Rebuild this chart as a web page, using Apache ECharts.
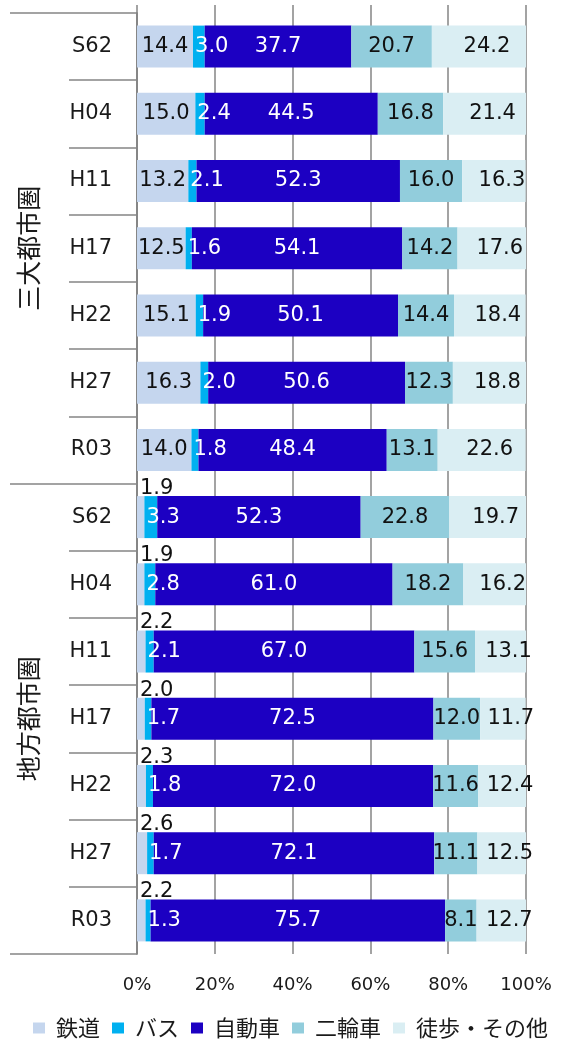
<!DOCTYPE html>
<html>
<head>
<meta charset="utf-8">
<script src="https://cdn.jsdelivr.net/npm/echarts@6/dist/echarts.min.js"></script>
<style>
html,body{margin:0;padding:0;background:#fff;}
#c{width:561px;height:1042px;}
</style>
</head>
<body>
<div id="c"></div>
<script>
const categories = ['S62','H04','H11','H17','H22','H27','R03','S62','H04','H11','H17','H22','H27','R03'];
const groups = ['三大都市圏','地方都市圏'];
const seriesNames = ['鉄道','バス','自動車','二輪車','徒歩・その他'];
const rail = [14.4,15.0,13.2,12.5,15.1,16.3,14.0,1.9,1.9,2.2,2.0,2.3,2.6,2.2];
const bus  = [3.0,2.4,2.1,1.6,1.9,2.0,1.8,3.3,2.8,2.1,1.7,1.8,1.7,1.3];
const car  = [37.7,44.5,52.3,54.1,50.1,50.6,48.4,52.3,61.0,67.0,72.5,72.0,72.1,75.7];
const bike = [20.7,16.8,16.0,14.2,14.4,12.3,13.1,22.8,18.2,15.6,12.0,11.6,11.1,8.1];
const walk = [24.2,21.4,16.3,17.6,18.4,18.8,22.6,19.7,16.2,13.1,11.7,12.4,12.5,12.7];
const xMin = 0, xMax = 100, xInterval = 20;

const colors = ['#c5d6ee','#00b0f0','#1c00c2','#92cddc','#daeef3'];
const numFont = 'DejaVu Sans';
const cjkFont = 'Noto Sans CJK JP';
const gridGray = '#858585';
const fmt = p => Number(p.value).toFixed(1);

function railData(){
  return rail.map((v,i)=>{
    if(i < 7) return v;
    return {value:v, label:{position:[3,3], align:'left', verticalAlign:'bottom'}};
  });
}

const baseLabel = {show:true, fontFamily:numFont, fontSize:21, formatter:fmt};
const series = [
  {name:seriesNames[0], data:railData(), label:Object.assign({}, baseLabel, {position:'inside', color:'#111'})},
  {name:seriesNames[1], data:bus, label:Object.assign({}, baseLabel, {position:'insideLeft', distance:2, color:'#fff'})},
  {name:seriesNames[2], data:car, label:Object.assign({}, baseLabel, {position:'inside', color:'#fff'})},
  {name:seriesNames[3], data:bike, label:Object.assign({}, baseLabel, {position:'inside', color:'#111'})},
  {name:seriesNames[4], data:walk, label:Object.assign({}, baseLabel, {position:'inside', color:'#111', offset:[8,0]})}
].map((s,k)=>Object.assign({
  type:'bar', stack:'total', yAxisIndex:0, xAxisIndex:0, barWidth:42,
  itemStyle:{color:colors[k]}, emphasis:{disabled:true}, animation:false
}, s));

const chart = echarts.init(document.getElementById('c'), null, {renderer:'canvas'});
chart.setOption({
  animation:false,
  color:colors,
  grid:{left:137, right:35, top:13, bottom:88, containLabel:false},
  legend:{
    data:seriesNames, top:1012, left:28, icon:'rect',
    itemWidth:12, itemHeight:11, itemGap:12,
    textStyle:{fontFamily:cjkFont, fontSize:22, color:'#1a1a1a', padding:[0,0,0,6]}
  },
  xAxis:[
    {type:'value', position:'bottom', min:xMin, max:xMax, interval:xInterval,
     axisLine:{show:false}, axisTick:{show:false},
     axisLabel:{formatter:'{value}%', fontFamily:numFont, fontSize:18, color:'#1a1a1a', margin:22},
     splitLine:{show:true, lineStyle:{color:gridGray, width:1.5}}},
    {type:'value', position:'top', min:xMin, max:xMax, interval:xInterval,
     axisLine:{show:false}, axisLabel:{show:false},
     axisTick:{show:true, inside:false, length:8, lineStyle:{color:gridGray, width:1.5}},
     splitLine:{show:false}}
  ],
  yAxis:[
    {type:'category', data:categories, inverse:true, position:'left',
     axisLine:{show:true, lineStyle:{color:gridGray, width:1.5}},
     axisTick:{show:true, length:68, lineStyle:{color:gridGray, width:1.5}},
     axisLabel:{fontFamily:numFont, fontSize:21, color:'#1a1a1a', margin:25}},
    {type:'category', data:groups, inverse:true, position:'left', offset:0,
     axisLine:{show:true, lineStyle:{color:gridGray, width:1.5}},
     axisTick:{show:true, length:127, lineStyle:{color:gridGray, width:1.5}},
     axisLabel:{rotate:90, fontFamily:cjkFont, fontSize:25, color:'#1a1a1a', margin:96}}
  ],
  series:series
});
</script>
</body>
</html>
